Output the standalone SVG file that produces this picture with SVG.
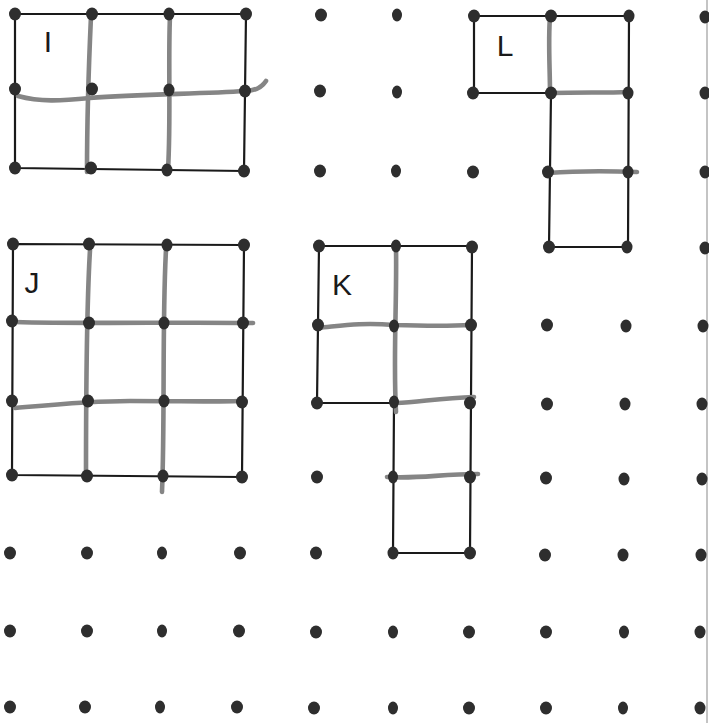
<svg xmlns="http://www.w3.org/2000/svg" width="709" height="723" viewBox="0 0 709 723">
<style>
.bg{fill:#ffffff}
.edge{stroke:#c4c4c4;stroke-width:2;fill:none}
.outline{stroke:#1a1a1a;stroke-width:2.2;fill:none;stroke-linejoin:round}
.pencil{stroke:#858585;stroke-width:4.6;fill:none;stroke-linecap:round;stroke-linejoin:round}
.dot{fill:#2e2e2e}
.lbl{font-family:"Liberation Sans",Arial,sans-serif;font-size:30px;fill:#1a1a1a;text-anchor:middle}
</style>
<rect class="bg" x="0" y="0" width="709" height="723"/>
<line class="edge" x1="707" y1="0" x2="707" y2="723"/>

<g id="shape-I">
  <polygon class="outline" points="15,14 246,14 244,171 15,168"/>
  <path class="pencil" d="M91,16 C89,60 87,120 87,172"/>
  <path class="pencil" d="M170,16 C168,60 171,120 168,170"/>
  <path class="pencil" d="M18,96 C40,102 60,101 90,98 C140,94 200,94 245,91 C255,91 262,87 266,81"/>
  <text class="lbl" x="48" y="52">I</text>
</g>

<g id="shape-L">
  <path class="outline" d="M474,16 H629 L628,247 H549 L551,93 H474 Z"/>
  <path class="pencil" d="M550,17 C548,40 550,70 550,93"/>
  <path class="pencil" d="M551,93 C580,92 605,93 628,92"/>
  <path class="pencil" d="M548,173 C575,171 610,171 637,172"/>
  <text class="lbl" x="505" y="56">L</text>
</g>

<g id="shape-J">
  <polygon class="outline" points="13,244 244,245 242,477 12,475"/>
  <path class="pencil" d="M90,250 C87,300 86,400 86,476"/>
  <path class="pencil" d="M166,250 C162,320 165,420 162,492"/>
  <path class="pencil" d="M15,322 C80,324 180,322 253,323"/>
  <path class="pencil" d="M15,408 C60,404 90,401 130,401 C180,401 220,402 238,401"/>
  <text class="lbl" x="32" y="293">J</text>
</g>

<g id="shape-K">
  <path class="outline" d="M319,246 H472 L470,553 H393 L394,403 H317 Z"/>
  <path class="pencil" d="M396,248 C397,300 393,360 396,412"/>
  <path class="pencil" d="M318,328 C340,326 360,322 394,325 C430,326 450,326 471,325"/>
  <path class="pencil" d="M396,403 C420,402 440,398 474,397"/>
  <path class="pencil" d="M387,477 C420,479 440,474 478,474"/>
  <text class="lbl" x="342" y="295">K</text>
</g>

<g id="dots">
  <ellipse class="dot" cx="15" cy="14" rx="6" ry="6.5"/>
  <ellipse class="dot" cx="92" cy="14" rx="6" ry="6.5"/>
  <ellipse class="dot" cx="169" cy="14" rx="5.5" ry="6.5"/>
  <ellipse class="dot" cx="246" cy="14" rx="6" ry="6.5"/>
  <ellipse class="dot" cx="321" cy="15" rx="6" ry="6.5"/>
  <ellipse class="dot" cx="397" cy="15" rx="5" ry="6.5"/>
  <ellipse class="dot" cx="474" cy="16" rx="6" ry="6.5"/>
  <ellipse class="dot" cx="551" cy="16" rx="6" ry="6.5"/>
  <ellipse class="dot" cx="629" cy="16" rx="5.5" ry="6.5"/>
  <ellipse class="dot" cx="705" cy="17" rx="5.5" ry="6.5"/>

  <ellipse class="dot" cx="15" cy="89" rx="6" ry="6.5"/>
  <ellipse class="dot" cx="92" cy="89" rx="6" ry="6.5"/>
  <ellipse class="dot" cx="169" cy="90" rx="5.5" ry="6.5"/>
  <ellipse class="dot" cx="245" cy="91" rx="6" ry="6.5"/>
  <ellipse class="dot" cx="320" cy="91" rx="6" ry="6.5"/>
  <ellipse class="dot" cx="397" cy="92" rx="5" ry="6.5"/>
  <ellipse class="dot" cx="473" cy="93" rx="6" ry="6.5"/>
  <ellipse class="dot" cx="551" cy="93" rx="6" ry="6.5"/>
  <ellipse class="dot" cx="628" cy="93" rx="5.5" ry="6.5"/>
  <ellipse class="dot" cx="705" cy="93" rx="5.5" ry="6.5"/>

  <ellipse class="dot" cx="15" cy="168" rx="6" ry="6.5"/>
  <ellipse class="dot" cx="91" cy="168" rx="6" ry="6.5"/>
  <ellipse class="dot" cx="167" cy="170" rx="5.5" ry="6.5"/>
  <ellipse class="dot" cx="244" cy="171" rx="6" ry="6.5"/>
  <ellipse class="dot" cx="320" cy="171" rx="6" ry="6.5"/>
  <ellipse class="dot" cx="396" cy="171" rx="5" ry="6.5"/>
  <ellipse class="dot" cx="473" cy="172" rx="6" ry="6.5"/>
  <ellipse class="dot" cx="548" cy="172" rx="6" ry="6.5"/>
  <ellipse class="dot" cx="628" cy="172" rx="5.5" ry="6.5"/>
  <ellipse class="dot" cx="705" cy="172" rx="5.5" ry="6.5"/>

  <ellipse class="dot" cx="13" cy="244" rx="6" ry="6.5"/>
  <ellipse class="dot" cx="89" cy="244" rx="6" ry="6.5"/>
  <ellipse class="dot" cx="167" cy="245" rx="5.5" ry="6.5"/>
  <ellipse class="dot" cx="244" cy="245" rx="6" ry="6.5"/>
  <ellipse class="dot" cx="319" cy="246" rx="6" ry="6.5"/>
  <ellipse class="dot" cx="396" cy="246" rx="5" ry="6.5"/>
  <ellipse class="dot" cx="472" cy="247" rx="6" ry="6.5"/>
  <ellipse class="dot" cx="549" cy="247" rx="6" ry="6.5"/>
  <ellipse class="dot" cx="627" cy="247" rx="5.5" ry="6.5"/>
  <ellipse class="dot" cx="705" cy="248" rx="5.5" ry="6.5"/>

  <ellipse class="dot" cx="12" cy="321" rx="6" ry="6.5"/>
  <ellipse class="dot" cx="89" cy="323" rx="6" ry="6.5"/>
  <ellipse class="dot" cx="164" cy="323" rx="5.5" ry="6.5"/>
  <ellipse class="dot" cx="243" cy="323" rx="6" ry="6.5"/>
  <ellipse class="dot" cx="318" cy="325" rx="6" ry="6.5"/>
  <ellipse class="dot" cx="394" cy="326" rx="5" ry="6.5"/>
  <ellipse class="dot" cx="471" cy="325" rx="6" ry="6.5"/>
  <ellipse class="dot" cx="547" cy="325" rx="6" ry="6.5"/>
  <ellipse class="dot" cx="626" cy="326" rx="5.5" ry="6.5"/>
  <ellipse class="dot" cx="703" cy="326" rx="5.5" ry="6.5"/>

  <ellipse class="dot" cx="12" cy="401" rx="6" ry="6.5"/>
  <ellipse class="dot" cx="88" cy="401" rx="6" ry="6.5"/>
  <ellipse class="dot" cx="164" cy="401" rx="5.5" ry="6.5"/>
  <ellipse class="dot" cx="242" cy="402" rx="6" ry="6.5"/>
  <ellipse class="dot" cx="317" cy="403" rx="6" ry="6.5"/>
  <ellipse class="dot" cx="394" cy="402" rx="5" ry="6.5"/>
  <ellipse class="dot" cx="470" cy="403" rx="6" ry="6.5"/>
  <ellipse class="dot" cx="547" cy="404" rx="6" ry="6.5"/>
  <ellipse class="dot" cx="625" cy="404" rx="5.5" ry="6.5"/>
  <ellipse class="dot" cx="702" cy="404" rx="5.5" ry="6.5"/>

  <ellipse class="dot" cx="12" cy="475" rx="6" ry="6.5"/>
  <ellipse class="dot" cx="87" cy="476" rx="6" ry="6.5"/>
  <ellipse class="dot" cx="163" cy="476" rx="5.5" ry="6.5"/>
  <ellipse class="dot" cx="242" cy="477" rx="6" ry="6.5"/>
  <ellipse class="dot" cx="317" cy="477" rx="6" ry="6.5"/>
  <ellipse class="dot" cx="393" cy="477" rx="5" ry="6.5"/>
  <ellipse class="dot" cx="470" cy="477" rx="6" ry="6.5"/>
  <ellipse class="dot" cx="546" cy="478" rx="6" ry="6.5"/>
  <ellipse class="dot" cx="624" cy="479" rx="5.5" ry="6.5"/>
  <ellipse class="dot" cx="702" cy="479" rx="5.5" ry="6.5"/>

  <ellipse class="dot" cx="10" cy="553" rx="6" ry="6.5"/>
  <ellipse class="dot" cx="87" cy="553" rx="6" ry="6.5"/>
  <ellipse class="dot" cx="162" cy="553" rx="5" ry="6.5"/>
  <ellipse class="dot" cx="240" cy="553" rx="6" ry="6.5"/>
  <ellipse class="dot" cx="316" cy="553" rx="6" ry="6.5"/>
  <ellipse class="dot" cx="393" cy="553" rx="5.5" ry="6.5"/>
  <ellipse class="dot" cx="470" cy="553" rx="6" ry="6.5"/>
  <ellipse class="dot" cx="545" cy="555" rx="6" ry="6.5"/>
  <ellipse class="dot" cx="623" cy="555" rx="5.5" ry="6.5"/>
  <ellipse class="dot" cx="701" cy="555" rx="5.5" ry="6.5"/>

  <ellipse class="dot" cx="10" cy="631" rx="6" ry="6.5"/>
  <ellipse class="dot" cx="87" cy="631" rx="6" ry="6.5"/>
  <ellipse class="dot" cx="162" cy="631" rx="5" ry="6.5"/>
  <ellipse class="dot" cx="239" cy="631" rx="6" ry="6.5"/>
  <ellipse class="dot" cx="316" cy="632" rx="6" ry="6.5"/>
  <ellipse class="dot" cx="393" cy="632" rx="5" ry="6.5"/>
  <ellipse class="dot" cx="469" cy="632" rx="6" ry="6.5"/>
  <ellipse class="dot" cx="546" cy="632" rx="6" ry="6.5"/>
  <ellipse class="dot" cx="624" cy="632" rx="5" ry="6.5"/>
  <ellipse class="dot" cx="700" cy="632" rx="5.5" ry="6.5"/>

  <ellipse class="dot" cx="10" cy="707" rx="6" ry="6.5"/>
  <ellipse class="dot" cx="85" cy="707" rx="6" ry="6.5"/>
  <ellipse class="dot" cx="160" cy="707" rx="5" ry="6.5"/>
  <ellipse class="dot" cx="237" cy="707" rx="6" ry="6.5"/>
  <ellipse class="dot" cx="314" cy="708" rx="6" ry="6.5"/>
  <ellipse class="dot" cx="393" cy="708" rx="5" ry="6.5"/>
  <ellipse class="dot" cx="469" cy="708" rx="6" ry="6.5"/>
  <ellipse class="dot" cx="546" cy="708" rx="6" ry="6.5"/>
  <ellipse class="dot" cx="623" cy="708" rx="5" ry="6.5"/>
  <ellipse class="dot" cx="700" cy="708" rx="5.5" ry="6.5"/>
</g>
</svg>
